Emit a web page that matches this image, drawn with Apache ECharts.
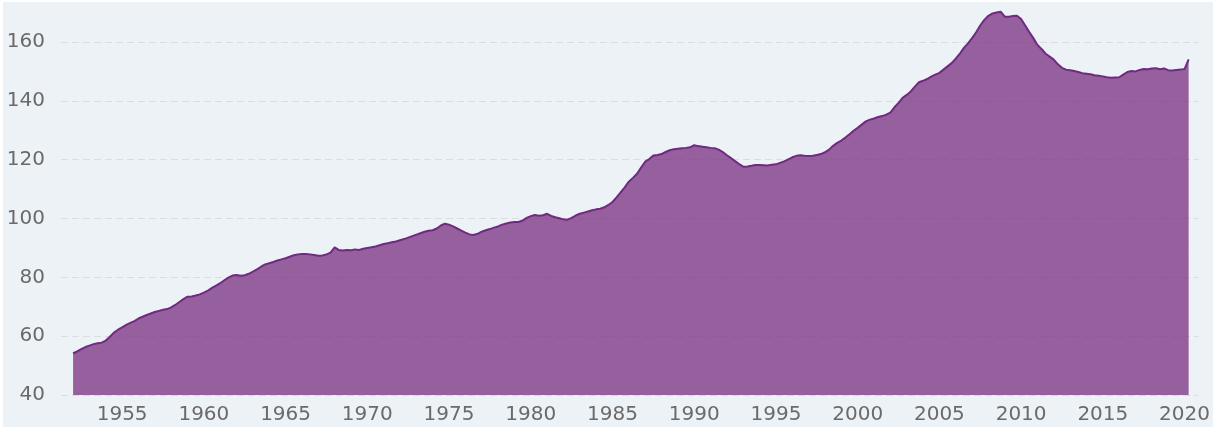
<!DOCTYPE html>
<html>
<head>
<meta charset="utf-8">
<title>Index, quarterly 1952–2020</title>
<script src="https://cdn.jsdelivr.net/npm/echarts@6/dist/echarts.min.js"></script>
<style>
  html, body { margin: 0; padding: 0; background: #ffffff; }
  #chart { position: absolute; left: 3px; top: 2px; width: 1210px; height: 425px; background: #edf2f7; }
</style>
</head>
<body>
<div id="chart"></div>
<script>
// Quarterly index values, one array per decade (Q1..Q4 of each year)
const firstYear = 1952;
const q1950s = [
  54.2, 54.8, 55.6, 56.3,
  56.8, 57.3, 57.6, 57.8,
  58.5, 59.8, 61.2, 62.2,
  63.0, 63.8, 64.5, 65.1,
  66.0, 66.6, 67.2, 67.7,
  68.2, 68.6, 69.0, 69.2,
  69.8, 70.6, 71.6, 72.6,
  73.4, 73.5, 73.8, 74.2
];
const q1960s = [
  74.8, 75.5, 76.4, 77.2,
  78.0, 79.0, 79.9, 80.6,
  80.8, 80.5, 80.7, 81.2,
  81.9, 82.7, 83.6, 84.4,
  84.8, 85.2, 85.7, 86.1,
  86.5, 87.0, 87.5, 87.8,
  87.9, 87.9, 87.8, 87.6,
  87.3, 87.4, 87.8, 88.4,
  90.2, 89.3, 89.1, 89.3,
  89.2, 89.5, 89.3, 89.7
];
const q1970s = [
  90.0, 90.2, 90.5, 90.9,
  91.3, 91.6, 91.9, 92.2,
  92.6, 93.0, 93.5, 94.0,
  94.5, 95.0, 95.5, 95.8,
  96.0, 96.6, 97.6, 98.2,
  97.9, 97.3, 96.6, 95.9,
  95.2, 94.6, 94.4, 94.8,
  95.5, 96.0, 96.4, 96.9,
  97.3, 97.9, 98.3, 98.6,
  98.8, 98.8, 99.3, 100.2
];
const q1980s = [
  100.8, 101.2, 100.9, 101.1,
  101.6, 100.9, 100.4, 100.1,
  99.7, 99.6, 100.2, 101.0,
  101.6, 102.0, 102.4, 102.8,
  103.1, 103.3, 103.8, 104.6,
  105.6, 107.2, 108.9, 110.6,
  112.5, 113.8, 115.2, 117.3,
  119.3, 120.2, 121.4, 121.6,
  121.9, 122.6, 123.2, 123.5,
  123.7, 123.9, 124.0, 124.2
];
const q1990s = [
  124.9, 124.6, 124.4, 124.2,
  124.0, 123.9, 123.4, 122.6,
  121.5, 120.5, 119.5, 118.5,
  117.6, 117.7, 117.9, 118.2,
  118.2, 118.1, 118.0, 118.3,
  118.4, 118.9, 119.4, 120.1,
  120.8, 121.3, 121.5, 121.3,
  121.2, 121.3, 121.6, 121.9,
  122.5, 123.4, 124.7, 125.7,
  126.5, 127.5, 128.6, 129.8
];
const q2000s = [
  130.8, 131.9, 133.0, 133.6,
  134.0, 134.5, 134.8, 135.3,
  136.0, 137.8, 139.3, 141.0,
  142.0, 143.2, 144.8, 146.3,
  146.8, 147.4, 148.2, 148.9,
  149.5, 150.6, 151.7, 152.8,
  154.3, 156.0, 158.0, 159.5,
  161.3, 163.3, 165.6, 167.5,
  168.9, 169.7, 170.0, 170.3,
  168.6, 168.6, 168.8, 168.9
];
const q2010s = [
  167.8, 165.6, 163.4, 161.3,
  159.0, 157.6, 156.0, 155.0,
  154.0, 152.4, 151.2, 150.6,
  150.4, 150.1, 149.8, 149.4,
  149.2, 149.0, 148.7, 148.5,
  148.3, 148.0, 147.8, 147.9,
  148.0, 148.9, 149.8, 150.1,
  150.0, 150.5, 150.8, 150.7,
  151.0, 151.1, 150.7, 151.0,
  150.4, 150.3, 150.5, 150.6
];
const q2020s = [150.8, 154.1];

// Axis ticks
const yTickStep = 20;
const xTickYears = [1955, 1960, 1965, 1970, 1975, 1980, 1985, 1990, 1995, 2000, 2005, 2010, 2015, 2020];

const values = [].concat(q1950s, q1960s, q1970s, q1980s, q1990s, q2000s, q2010s, q2020s);
const seriesData = values.map((v, i) => [firstYear + i * 0.25, v]);

const chart = echarts.init(document.getElementById('chart'), null, { renderer: 'canvas' });
const labelFont = { fontFamily: 'DejaVu Sans', fontSize: 20, color: '#6a6a6a' };

chart.setOption({
  backgroundColor: '#edf2f7',
  animation: false,
  grid: { left: 58, right: 13, top: 7.6, bottom: 32, containLabel: false },
  xAxis: {
    type: 'value',
    min: 1951.26,
    max: 2020.87,
    axisLine: { show: false },
    axisTick: { show: false },
    splitLine: { show: false },
    axisLabel: Object.assign({
      customValues: xTickYears,
      margin: 10,
      formatter: v => String(v)
    }, labelFont)
  },
  yAxis: {
    type: 'value',
    min: 40,
    max: 171,
    interval: yTickStep,
    axisLine: { show: false },
    axisTick: { show: false },
    axisLabel: Object.assign({
      margin: 16,
      showMaxLabel: false,
      formatter: v => String(v)
    }, labelFont),
    splitLine: {
      show: true,
      showMaxLine: false,
      lineStyle: { color: '#d9dde2', width: 1, type: [7, 4] }
    }
  },
  series: [{
    type: 'line',
    data: seriesData,
    showSymbol: false,
    symbol: 'none',
    smooth: false,
    z: 1,
    lineStyle: { color: '#702a80', width: 2 },
    areaStyle: { color: 'rgb(127,58,134)', opacity: 0.8, origin: 'start' }
  }]
});
</script>
</body>
</html>
